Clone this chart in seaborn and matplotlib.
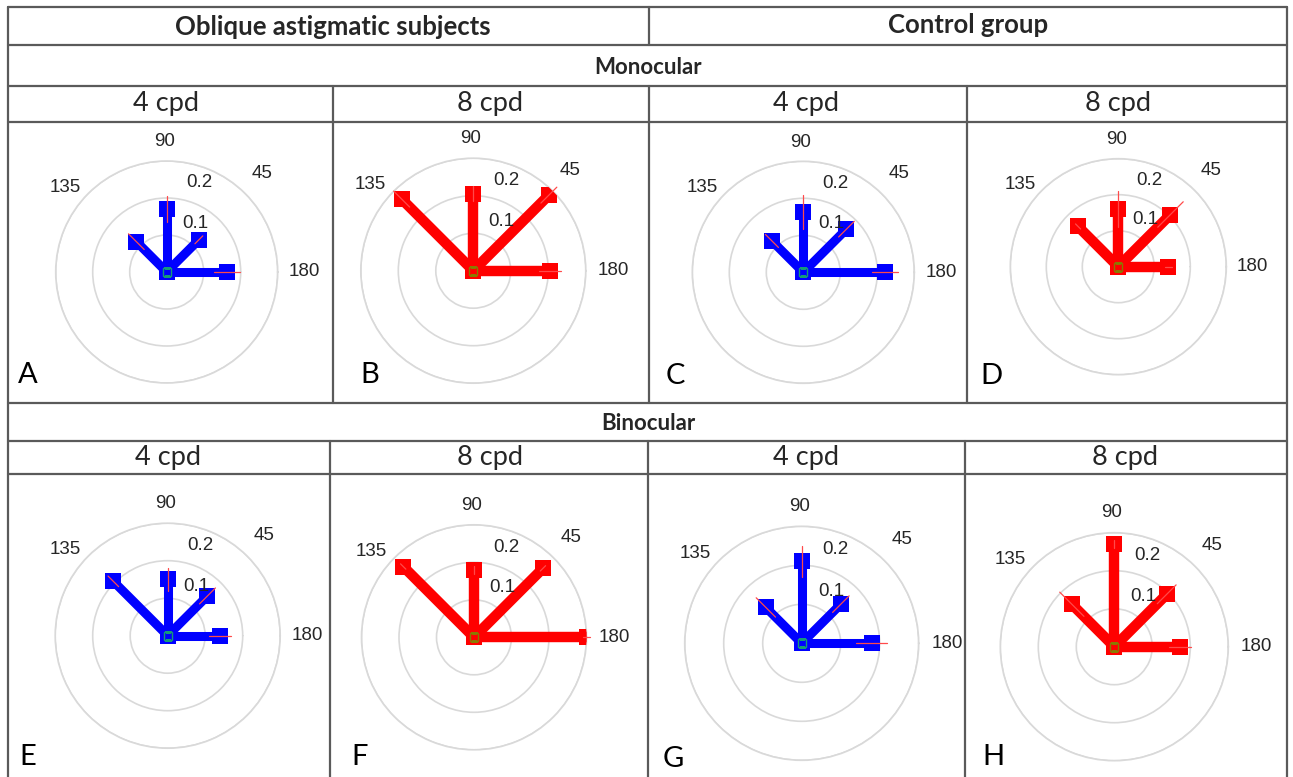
import numpy as np
import pandas as pd
import matplotlib.pyplot as plt
from matplotlib.lines import Line2D
import seaborn as sns

# -----------------------------------------------------------------------------
# data (contrast sensitivity-like values per orientation)
orientations = [180, 45, 90, 135]

vals_A = [0.162, 0.123, 0.170, 0.116]
errs_A = [0.035, 0.015, 0.035, 0.030]
vals_B = [0.205, 0.285, 0.205, 0.270]
errs_B = [0.030, 0.030, 0.020, 0.030]
vals_C = [0.220, 0.165, 0.163, 0.120]
errs_C = [0.035, 0.030, 0.045, 0.025]
vals_D = [0.139, 0.205, 0.161, 0.158]
errs_D = [0.010, 0.050, 0.050, 0.010]
vals_E = [0.140, 0.150, 0.150, 0.205]
errs_E = [0.030, 0.030, 0.030, 0.020]
vals_F = [0.300, 0.260, 0.180, 0.267]
errs_F = [0.010, 0.010, 0.010, 0.010]
vals_G = [0.180, 0.142, 0.210, 0.130]
errs_G = [0.040, 0.030, 0.040, 0.035]
vals_H = [0.173, 0.195, 0.270, 0.158]
errs_H = [0.030, 0.035, 0.010, 0.045]

group_titles = ["Oblique astigmatic subjects", "Control group"]
row_titles = ["Monocular", "Binocular"]
freq_labels = ["4 cpd", "8 cpd", "4 cpd", "8 cpd"]
panel_letters = ["A", "B", "C", "D", "E", "F", "G", "H"]

W, H = 1293, 777

sns.set_theme(style="white")
plt.rcParams['font.family'] = ['Lato', 'DejaVu Sans']

fig = plt.figure(figsize=(W / 100, H / 100), dpi=100)
fig.patch.set_facecolor("white")


def fx(x):
    return x / W


def fy(y):
    return 1 - y / H


def hline(y, x0, x1):
    fig.add_artist(Line2D([fx(x0), fx(x1)], [fy(y), fy(y)], color="#5a5a5a", lw=1.6))


def vline(x, y0, y1):
    fig.add_artist(Line2D([fx(x), fx(x)], [fy(y0), fy(y1)], color="#5a5a5a", lw=1.6))


# -----------------------------------------------------------------------------
# table frame
for y in [7, 45, 86, 122, 403, 441, 474]:
    hline(y, 8, 1287)
vline(8, 7, 777)
vline(1287, 7, 777)
vline(649, 7, 45)
for x in [333, 649, 967]:
    vline(x, 86, 403)
for x in [330, 648, 965]:
    vline(x, 441, 777)

fig.text(fx(333), fy(27), group_titles[0], ha="center", va="center", fontsize=18.5, fontweight="bold")
fig.text(fx(968), fy(25), group_titles[1], ha="center", va="center", fontsize=18.5, fontweight="bold")
fig.text(fx(648), fy(68), row_titles[0], ha="center", va="center", fontsize=16, fontweight="bold")
fig.text(fx(648), fy(423), row_titles[1], ha="center", va="center", fontsize=16, fontweight="bold")

for x, lab in zip([166, 490, 806, 1118], freq_labels):
    fig.text(fx(x), fy(104), lab, ha="center", va="center", fontsize=19.5)
for x, lab in zip([168, 490, 806, 1125], freq_labels):
    fig.text(fx(x), fy(457), lab, ha="center", va="center", fontsize=19.5)

# -----------------------------------------------------------------------------
# polar panels
panels = [
    (vals_A, errs_A, "blue", (166.7, 272.0), 37.0, (28, 375)),
    (vals_B, errs_B, "red", (473.3, 270.7), 37.5, (370, 375)),
    (vals_C, errs_C, "blue", (803.3, 272.3), 37.0, (675, 376)),
    (vals_D, errs_D, "red", (1118.3, 266.7), 36.0, (991, 376)),
    (vals_E, errs_E, "blue", (167.7, 635.7), 37.5, (28, 757)),
    (vals_F, errs_F, "red", (474.0, 637.3), 37.5, (360, 757)),
    (vals_G, errs_G, "blue", (801.7, 643.3), 39.0, (673, 759)),
    (vals_H, errs_H, "red", (1114.3, 646.7), 38.0, (993, 757)),
]

colors = {"blue": "#0000ff", "red": "#ff0000"}
inner_edge = {"blue": "#159a7a", "red": "#8a7a00"}
widths = {"blue": 6.5, "red": 7.5}

theta = np.deg2rad([o % 180 for o in orientations])

for (vals, errs, cname, (cx, cy), scale, (lx, ly)), letter in zip(panels, panel_letters):
    rpx = scale * 3
    ax = fig.add_axes([fx(cx - rpx), fy(cy + rpx), 2 * rpx / W, 2 * rpx / H], projection="polar")
    ax.set_facecolor("none")
    ax.set_ylim(0, 0.3)
    ax.set_yticks([0.1, 0.2, 0.3])
    ax.set_yticklabels([])
    ax.set_xticks([])
    ax.yaxis.grid(True, color="#d9d9d9", lw=1.2)
    ax.xaxis.grid(False)
    ax.spines["polar"].set_color("#d9d9d9")
    ax.spines["polar"].set_linewidth(1.2)

    c = colors[cname]
    rows = []
    for i, (t, v) in enumerate(zip(theta, vals)):
        rows.append({"theta": t, "r": 0.0, "spoke": i})
        rows.append({"theta": t, "r": v, "spoke": i})
    df = pd.DataFrame(rows)
    sns.lineplot(data=df, x="theta", y="r", units="spoke", estimator=None, sort=False,
                 color=c, lw=widths[cname], marker="s", markersize=11.5,
                 markeredgewidth=0, solid_capstyle="butt", legend=False, ax=ax, zorder=3)

    # error segments along each spoke
    for t, v, e in zip(theta, vals, errs):
        ax.plot([t, t], [v - e, v + e], color="#ff4a4a", lw=0.9, zorder=4, clip_on=False)

    # centre marker
    ax.plot([0], [0], marker="s", markersize=6, markerfacecolor="none",
            markeredgecolor=inner_edge[cname], markeredgewidth=1.0, zorder=5)

    ax.set_xlabel("")
    ax.set_ylabel("")
    ax.set_ylim(0, 0.3)

    # angle and radius labels
    lab_kw = dict(ha="center", va="center", fontsize=13.5, color="#262626",
                  family=["Liberation Sans", "DejaVu Sans"], clip_on=False)
    ax.text(np.deg2rad(91), 0.352, "90", **lab_kw)
    ax.text(np.deg2rad(46), 0.371, "45", **lab_kw)
    ax.text(np.deg2rad(140), 0.357, "135", **lab_kw)
    ax.text(np.deg2rad(0), 0.373, "180", **lab_kw)
    ax.text(np.deg2rad(70), 0.256, "0.2", **lab_kw)
    ax.text(np.deg2rad(60), 0.152, "0.1", **lab_kw)

    fig.text(fx(lx), fy(ly), letter, ha="center", va="center", fontsize=21, color="black")

fig.savefig("out.png", dpi=100, facecolor="white")
